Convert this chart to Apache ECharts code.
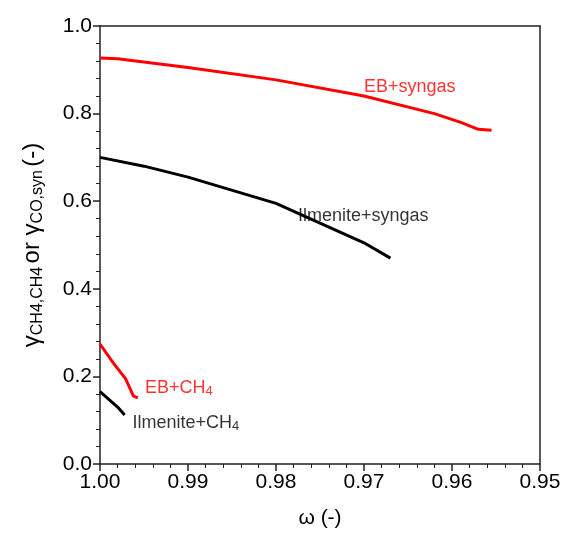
<!DOCTYPE html><html><head><meta charset="utf-8"><script src="https://cdn.jsdelivr.net/npm/echarts@6/dist/echarts.min.js"></script></head><body style="margin:0"><div id="c" style="width:566px;height:538px"></div><script>
const ebSyngas=[[1.0,0.927],[0.998,0.925],[0.99,0.905],[0.98,0.877],[0.97,0.84],[0.962,0.8],[0.959,0.78],[0.957,0.764],[0.9555,0.762]];
const ilSyngas=[[1.0,0.70],[0.995,0.68],[0.99,0.655],[0.98,0.595],[0.97,0.505],[0.967,0.47]];
const ebCH4=[[1.0,0.274],[0.9985,0.231],[0.9971,0.195],[0.9962,0.155],[0.9957,0.151]];
const ilCH4=[[1.0,0.165],[0.9989,0.146],[0.998,0.13],[0.9972,0.112]];
const labels=[["EB+syngas",0.970,0.86,'#ff0000',''],["Ilmenite+syngas",0.9775,0.565,'#000',''],["EB+CH",0.9949,0.174,'#ff0000','4'],["Ilmenite+CH",0.9963,0.094,'#000','4']];
const f='Liberation Sans';
const ax=(o)=>Object.assign({axisLine:{onZero:false,lineStyle:{color:'#222',width:1.5}},axisTick:{inside:false,length:7,lineStyle:{color:'#222',width:1.5}},minorTick:{show:true,length:4,lineStyle:{color:'#222'}},splitLine:{show:false},axisLabel:{fontFamily:f,fontSize:21,color:'#000'}},o);
const c=echarts.init(document.getElementById('c'));
const ser=(d,col)=>({type:'line',data:d,showSymbol:false,lineStyle:{color:col,width:3}});
c.setOption({grid:{left:100,right:26,top:26,bottom:74},
xAxis:[ax({type:'value',min:0.95,max:1.0,interval:0.01,inverse:true,name:'ω (-)',nameLocation:'middle',nameGap:44,nameTextStyle:{fontFamily:f,fontSize:21,color:'#000'},axisLabel:{fontFamily:f,fontSize:21,color:'#000',formatter:v=>v.toFixed(2)}}),
ax({type:'value',min:0.95,max:1.0,position:'top',inverse:true,axisTick:{show:false},minorTick:{show:false},axisLabel:{show:false}})],
yAxis:[ax({type:'value',min:0,max:1,interval:0.2,name:'{a|γ}{s|CH4,CH4} {a|or γ}{s|CO,syn} {a|(-)}',nameLocation:'middle',nameGap:54,nameTextStyle:{rich:{a:{fontFamily:f,fontSize:24,color:'#000'},s:{fontFamily:f,fontSize:16,color:'#000',padding:[12,0,0,0]}}},axisLabel:{fontFamily:f,fontSize:21,color:'#000',formatter:v=>v.toFixed(1)}}),
ax({type:'value',min:0,max:1,position:'right',axisTick:{show:false},minorTick:{show:false},axisLabel:{show:false}})],
series:[ser(ebSyngas,'#ff0000'),ser(ilSyngas,'#000'),ser(ebCH4,'#ff0000'),ser(ilCH4,'#000'),
{type:'scatter',symbolSize:0,data:labels.map(l=>({value:[l[1],l[2]],label:{show:true,position:'right',distance:0,formatter:'{a|'+l[0]+'}'+(l[4]?'{s|'+l[4]+'}':''),rich:{a:{fontFamily:f,fontSize:18,color:l[3]},s:{fontFamily:f,fontSize:13,color:l[3],padding:[8,0,0,0]}}}}))}]});
</script></body></html>
